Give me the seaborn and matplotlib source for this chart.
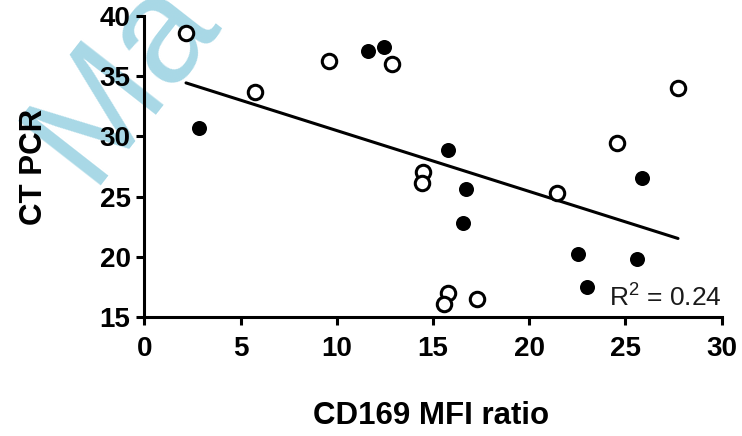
import matplotlib

matplotlib.use("Agg")
import matplotlib.pyplot as plt
import pandas as pd
import seaborn as sns

# values
open_x = [2.16, 5.76, 9.57, 12.88, 14.47, 14.42, 15.77, 15.57, 17.28, 21.42, 24.54, 27.73]
open_y = [38.56, 33.71, 36.26, 35.99, 27.04, 26.13, 17.0, 16.08, 16.52, 25.27, 29.48, 34.02]
filled_x = [2.85, 11.63, 12.46, 15.76, 16.69, 16.54, 22.53, 22.98, 25.6, 25.86]
filled_y = [30.72, 37.12, 37.40, 28.87, 25.61, 22.78, 20.23, 17.52, 19.82, 26.54]

x_ticks = [0, 5, 10, 15, 20, 25, 30]
y_ticks = [15, 20, 25, 30, 35, 40]
x_label = "CD169 MFI ratio"
y_label = "CT PCR"
r2_text = "R$^2$ = 0.24"
watermark = "Ma"


def main():
    sns.set_theme(style="ticks")
    plt.rcParams["font.family"] = ["Liberation Sans", "DejaVu Sans"]
    plt.rcParams["mathtext.fontset"] = "custom"
    plt.rcParams["mathtext.rm"] = "Liberation Sans"
    plt.rcParams["mathtext.it"] = "Liberation Sans"

    points = pd.DataFrame(
        {
            "x": open_x + filled_x,
            "y": open_y + filled_y,
            "group": ["open"] * len(open_x) + ["filled"] * len(filled_x),
        }
    )

    fig = plt.figure(figsize=(7.42, 4.36), dpi=100, facecolor="white")
    ax = fig.add_axes([0.1947, 0.2729, 0.9726 - 0.1947, 0.9633 - 0.2729])
    ax.set_facecolor("none")

    # faint diagonal watermark behind the plot
    fig.text(
        0.12, 0.574, watermark, rotation=52, rotation_mode="anchor",
        ha="left", va="baseline", fontsize=110, color="#a8d8e6", zorder=-1,
    )

    sns.regplot(
        data=points, x="x", y="y", scatter=False, ci=None, truncate=True,
        color="black", line_kws={"linewidth": 2.2}, ax=ax,
    )
    sns.scatterplot(
        data=points[points["group"] == "open"], x="x", y="y", s=108,
        facecolor="white", edgecolor="black", linewidth=2.2, ax=ax, zorder=3,
    )
    sns.scatterplot(
        data=points[points["group"] == "filled"], x="x", y="y", s=117,
        color="black", linewidth=0, ax=ax, zorder=3,
    )

    ax.set_xlim(x_ticks[0], x_ticks[-1])
    ax.set_ylim(y_ticks[0], y_ticks[-1])
    ax.set_xticks(x_ticks)
    ax.set_yticks(y_ticks)
    sns.despine(ax=ax)
    for side in ["left", "bottom"]:
        ax.spines[side].set_linewidth(2.2)
        ax.spines[side].set_color("black")
    ax.tick_params(width=2.2, length=6, labelsize=20, color="black", labelcolor="black")
    ax.tick_params(axis="x", pad=8)
    ax.tick_params(axis="y", pad=4)
    for label in ax.get_xticklabels() + ax.get_yticklabels():
        label.set_fontweight("bold")

    ax.set_xlabel(x_label, fontsize=22.5, fontweight="bold", color="black", va="top")
    ax.set_ylabel(y_label, fontsize=22.5, fontweight="bold", color="black")
    ax.xaxis.set_label_coords(0.497, -0.279)
    ax.yaxis.set_label_coords(-0.165, 0.5)

    ax.text(30, 15.9, r2_text, ha="right", va="baseline", fontsize=19, color="#1a1a1a")

    fig.savefig("out.png", dpi=100, facecolor="white")
    plt.close(fig)


if __name__ == "__main__":
    main()
